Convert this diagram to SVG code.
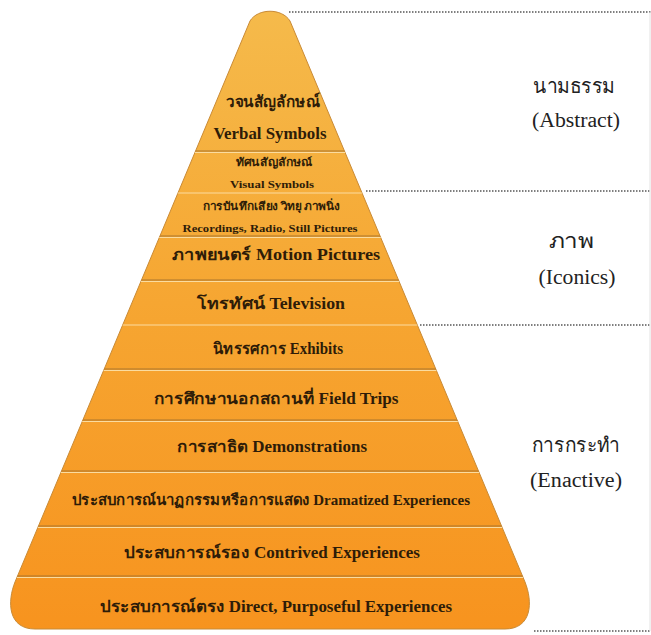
<svg xmlns="http://www.w3.org/2000/svg" width="651" height="635" viewBox="0 0 651 635">
<defs>
<linearGradient id="fillGrad" x1="0" y1="0" x2="0" y2="635" gradientUnits="userSpaceOnUse">
<stop offset="0" stop-color="#f5bb4c"/>
<stop offset="0.45" stop-color="#f6a733"/>
<stop offset="1" stop-color="#f7931e"/>
</linearGradient>
<clipPath id="pyrClip">
<path id="pyrShape" d="M250,21 C258,8 282,8 290,21 L525,582 C533,602 532,629 505,629 L35,629 C8,629 7,602 15,582 Z"/>
</clipPath>
<style>
.row{font-family:"Liberation Serif","DejaVu Serif",serif;font-weight:bold;fill:#2e1c08;text-anchor:middle}
.big{font-size:16px}
.small{font-size:11px}
.side{font-family:"Liberation Serif","DejaVu Serif",serif;fill:#222;text-anchor:middle;font-size:20px}
.dot{stroke:#555;stroke-width:1.4;stroke-dasharray:1.5 1.5;fill:none}
.sepD{stroke:#a8742e;stroke-width:1}
.sepL{stroke:#fbdc9f;stroke-width:1.2}
</style>
</defs>
<rect width="651" height="635" fill="#ffffff"/>
<g id="pyramid">
<path d="M250,21 C258,8 282,8 290,21 L525,582 C533,602 532,629 505,629 L35,629 C8,629 7,602 15,582 Z" fill="url(#fillGrad)" stroke="#c98a35" stroke-width="1"/>
</g>
<g id="separators" clip-path="url(#pyrClip)">
<line class="sepD" x1="0" y1="151" x2="651" y2="151"/><line class="sepL" x1="0" y1="152.5" x2="651" y2="152.5"/>
<line class="sepL" x1="0" y1="193" x2="651" y2="193"/>
<line class="sepD" x1="0" y1="236" x2="651" y2="236"/><line class="sepL" x1="0" y1="237.5" x2="651" y2="237.5"/>
<line class="sepD" x1="0" y1="280" x2="651" y2="280"/><line class="sepL" x1="0" y1="281.5" x2="651" y2="281.5"/>
<line class="sepL" x1="0" y1="325" x2="651" y2="325"/>
<line class="sepD" x1="0" y1="369" x2="651" y2="369"/><line class="sepL" x1="0" y1="370.5" x2="651" y2="370.5"/>
<line class="sepD" x1="0" y1="420" x2="651" y2="420"/><line class="sepL" x1="0" y1="421.5" x2="651" y2="421.5"/>
<line class="sepD" x1="0" y1="471" x2="651" y2="471"/><line class="sepL" x1="0" y1="472.5" x2="651" y2="472.5"/>
<line class="sepD" x1="0" y1="526" x2="651" y2="526"/><line class="sepL" x1="0" y1="527.5" x2="651" y2="527.5"/>
<line class="sepD" x1="0" y1="576" x2="651" y2="576"/><line class="sepL" x1="0" y1="577.5" x2="651" y2="577.5"/>
</g>
<g id="verbal">
<text class="row big" x="273" y="107" textLength="94" lengthAdjust="spacingAndGlyphs">วจนสัญลักษณ์</text>
<text class="row big" x="270" y="139" textLength="113" lengthAdjust="spacingAndGlyphs">Verbal Symbols</text>
</g>
<g id="visual">
<text class="row small" x="274" y="166" textLength="76" lengthAdjust="spacingAndGlyphs">ทัศนสัญลักษณ์</text>
<text class="row small" x="272" y="188" textLength="84" lengthAdjust="spacingAndGlyphs">Visual Symbols</text>
</g>
<g id="recordings">
<text class="row small" x="271" y="210" textLength="137" lengthAdjust="spacingAndGlyphs">การบันทึกเสียง วิทยุ ภาพนิ่ง</text>
<text class="row small" x="270" y="232" textLength="175" lengthAdjust="spacingAndGlyphs">Recordings, Radio, Still Pictures</text>
</g>
<g id="motion">
<text class="row big" x="276" y="260" textLength="208" lengthAdjust="spacingAndGlyphs">ภาพยนตร์ Motion Pictures</text>
</g>
<g id="television">
<text class="row big" x="271" y="309" textLength="148" lengthAdjust="spacingAndGlyphs">โทรทัศน์ Television</text>
</g>
<g id="exhibits">
<text class="row big" x="278" y="354" textLength="130" lengthAdjust="spacingAndGlyphs">นิทรรศการ Exhibits</text>
</g>
<g id="fieldtrips">
<text class="row big" x="276" y="404" textLength="245" lengthAdjust="spacingAndGlyphs">การศึกษานอกสถานที่ Field Trips</text>
</g>
<g id="demonstrations">
<text class="row big" x="272" y="452" textLength="190" lengthAdjust="spacingAndGlyphs">การสาธิต Demonstrations</text>
</g>
<g id="dramatized">
<text class="row" style="font-size:14.5px" x="271" y="505" textLength="398" lengthAdjust="spacingAndGlyphs">ประสบการณ์นาฏกรรมหรือการแสดง Dramatized Experiences</text>
</g>
<g id="contrived">
<text class="row big" x="272" y="558" textLength="296" lengthAdjust="spacingAndGlyphs">ประสบการณ์รอง Contrived Experiences</text>
</g>
<g id="direct">
<text class="row big" x="276" y="612" textLength="352" lengthAdjust="spacingAndGlyphs">ประสบการณ์ตรง Direct, Purposeful Experiences</text>
</g>
<g id="connectors">
<line class="dot" x1="289" y1="12" x2="651" y2="12"/>
<line class="dot" x1="366" y1="191" x2="651" y2="191"/>
<line class="dot" x1="420" y1="325" x2="651" y2="325"/>
<line class="dot" x1="534" y1="631" x2="651" y2="631"/>
<line x1="650" y1="12" x2="650" y2="631" stroke="#e2e2e2" stroke-width="1"/>
</g>
<g id="abstract">
<text class="side" x="574" y="93" textLength="82" lengthAdjust="spacingAndGlyphs">นามธรรม</text>
<text class="side" x="576" y="127" textLength="88" lengthAdjust="spacingAndGlyphs">(Abstract)</text>
</g>
<g id="iconics">
<text class="side" x="571" y="248" textLength="45" lengthAdjust="spacingAndGlyphs">ภาพ</text>
<text class="side" x="577" y="284" textLength="77" lengthAdjust="spacingAndGlyphs">(Iconics)</text>
</g>
<g id="enactive">
<text class="side" x="576" y="452" textLength="88" lengthAdjust="spacingAndGlyphs">การกระทำ</text>
<text class="side" x="576" y="487" textLength="92" lengthAdjust="spacingAndGlyphs">(Enactive)</text>
</g>
</svg>
